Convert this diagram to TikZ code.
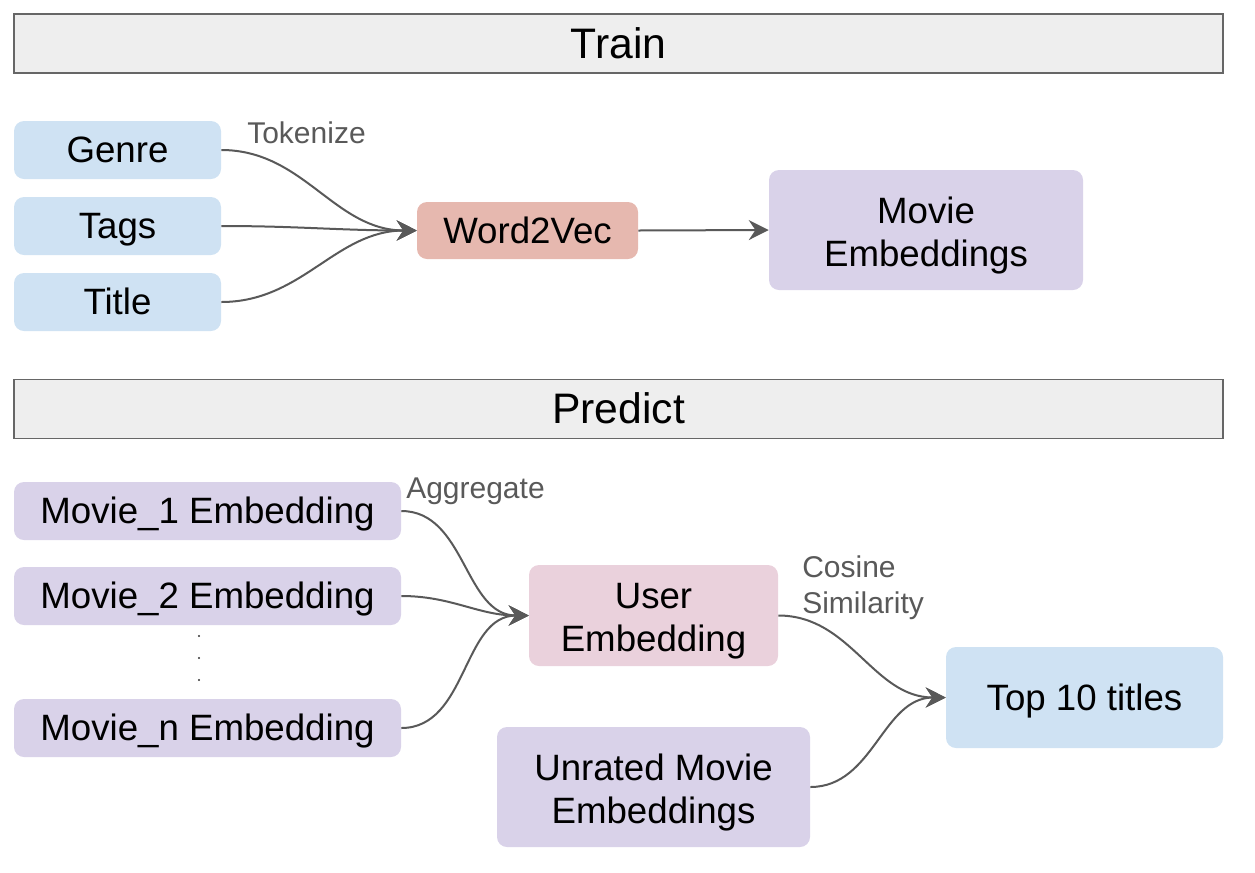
\documentclass[tikz,border=0pt]{standalone}
\usepackage{fontspec}
\setmainfont{Liberation Sans}
\usetikzlibrary{arrows.meta}

\definecolor{hdrfill}{HTML}{EEEEEE}
\definecolor{hdrline}{HTML}{666666}
\definecolor{lblue}{HTML}{CFE2F3}
\definecolor{lpurple}{HTML}{D9D2E9}
\definecolor{lred}{HTML}{E6B8AF}
\definecolor{lpink}{HTML}{EAD1DC}
\definecolor{edgegray}{HTML}{595959}
\newcommand\linestrut{\rule[-0.212em]{0pt}{1.117em}}
\newcommand\topgap{\rule{0pt}{1.02em}}

\begin{document}
\begin{tikzpicture}[x=0.75pt,y=0.75pt,yscale=-1,xscale=1,
    header/.style={draw=hdrline,line width=1.1pt,fill=hdrfill,minimum width=906.75pt,minimum height=44.25pt,inner sep=0pt,font=\fontsize{32}{38}\selectfont,execute at begin node=\linestrut,execute at end node=\linestrut},
    box/.style={rounded corners=7.5pt,inner sep=0pt,align=center,font=\fontsize{27.5}{32.5}\selectfont,execute at begin node=\linestrut,execute at end node=\linestrut},
    lbl/.style={inner sep=0pt,text=edgegray,align=left,font=\fontsize{22.5}{27}\selectfont},
    edge/.style={draw=edgegray,line width=1.5pt,-{Stealth[length=15pt,width=15pt,inset=5pt]}}]
\useasboundingbox (0,0) rectangle (1255,872);

%Shape: Header [Train]
\node[header] (train) at (618.5,43.5) {Train};
%Shape: Header [Predict]
\node[header] (predict) at (618.5,409) {Predict};

%Shape: Rounded Rectangle
\node[box,fill=lblue,minimum width=155.25pt,minimum height=43.5pt] (genre) at (117.5,150) {Genre};
%Shape: Rounded Rectangle
\node[box,fill=lblue,minimum width=155.25pt,minimum height=43.5pt] (tags) at (117.5,226) {Tags};
%Shape: Rounded Rectangle
\node[box,fill=lblue,minimum width=155.25pt,minimum height=43.5pt] (title) at (117.5,302) {Title};
%Shape: Rounded Rectangle
\node[box,fill=lred,minimum width=165.75pt,minimum height=42.75pt] (wordvec) at (527.5,230.5) {Word2Vec};
%Shape: Rounded Rectangle
\node[box,fill=lpurple,minimum width=235.5pt,minimum height=90pt] (movemb) at (926,230) {\topgap Movie\\Embeddings};

%Shape: Rounded Rectangle
\node[box,fill=lpurple,minimum width=290.25pt,minimum height=43.5pt] (mone) at (207.5,511) {Movie\_1 Embedding};
%Shape: Rounded Rectangle
\node[box,fill=lpurple,minimum width=290.25pt,minimum height=43.5pt] (mtwo) at (207.5,596) {Movie\_2 Embedding};
%Shape: Rounded Rectangle
\node[box,fill=lpurple,minimum width=290.25pt,minimum height=43.5pt] (mlast) at (207.5,728) {Movie\_n Embedding};
%Shape: Rounded Rectangle
\node[box,fill=lpink,minimum width=186.75pt,minimum height=75.75pt] (useremb) at (653.5,615.5) {\topgap User\\Embedding};
%Shape: Rounded Rectangle
\node[box,fill=lpurple,minimum width=234.75pt,minimum height=90pt] (unrated) at (653.5,787) {\topgap Unrated Movie\\Embeddings};
%Shape: Rounded Rectangle
\node[box,fill=lblue,minimum width=207.75pt,minimum height=75.75pt] (topten) at (1084.5,697.5) {Top 10 titles};

%Shape: Circle (vertical dots)
\fill[black!80] (199,636) circle (1.2) (199,658) circle (1.2) (199,680) circle (1.2);

% Text Node
\node[lbl,anchor=base west] (tokenize) at (247,143) {Tokenize};
% Text Node
\node[lbl,anchor=base west] (aggregate) at (406,498) {Aggregate};
% Text Node
\node[lbl,anchor=base west] (cosine) at (802,613) {Cosine\\Similarity};

%Curve Lines
\draw[edge] (genre.east) to[out=0,in=180] (wordvec.west);
\draw[edge] (tags.east) to[out=0,in=180] (wordvec.west);
\draw[edge] (title.east) to[out=0,in=180] (wordvec.west);
%Straight Lines
\draw[edge] (wordvec.east) -- (movemb.west);

%Curve Lines
\draw[edge] (mone.east) to[out=0,in=180] (useremb.west);
\draw[edge] (mtwo.east) to[out=0,in=180] (useremb.west);
\draw[edge] (mlast.east) to[out=0,in=180] (useremb.west);
%Curve Lines
\draw[edge] (useremb.east) to[out=0,in=180] (topten.west);
\draw[edge] (unrated.east) to[out=0,in=180] (topten.west);
\end{tikzpicture}
\end{document}
